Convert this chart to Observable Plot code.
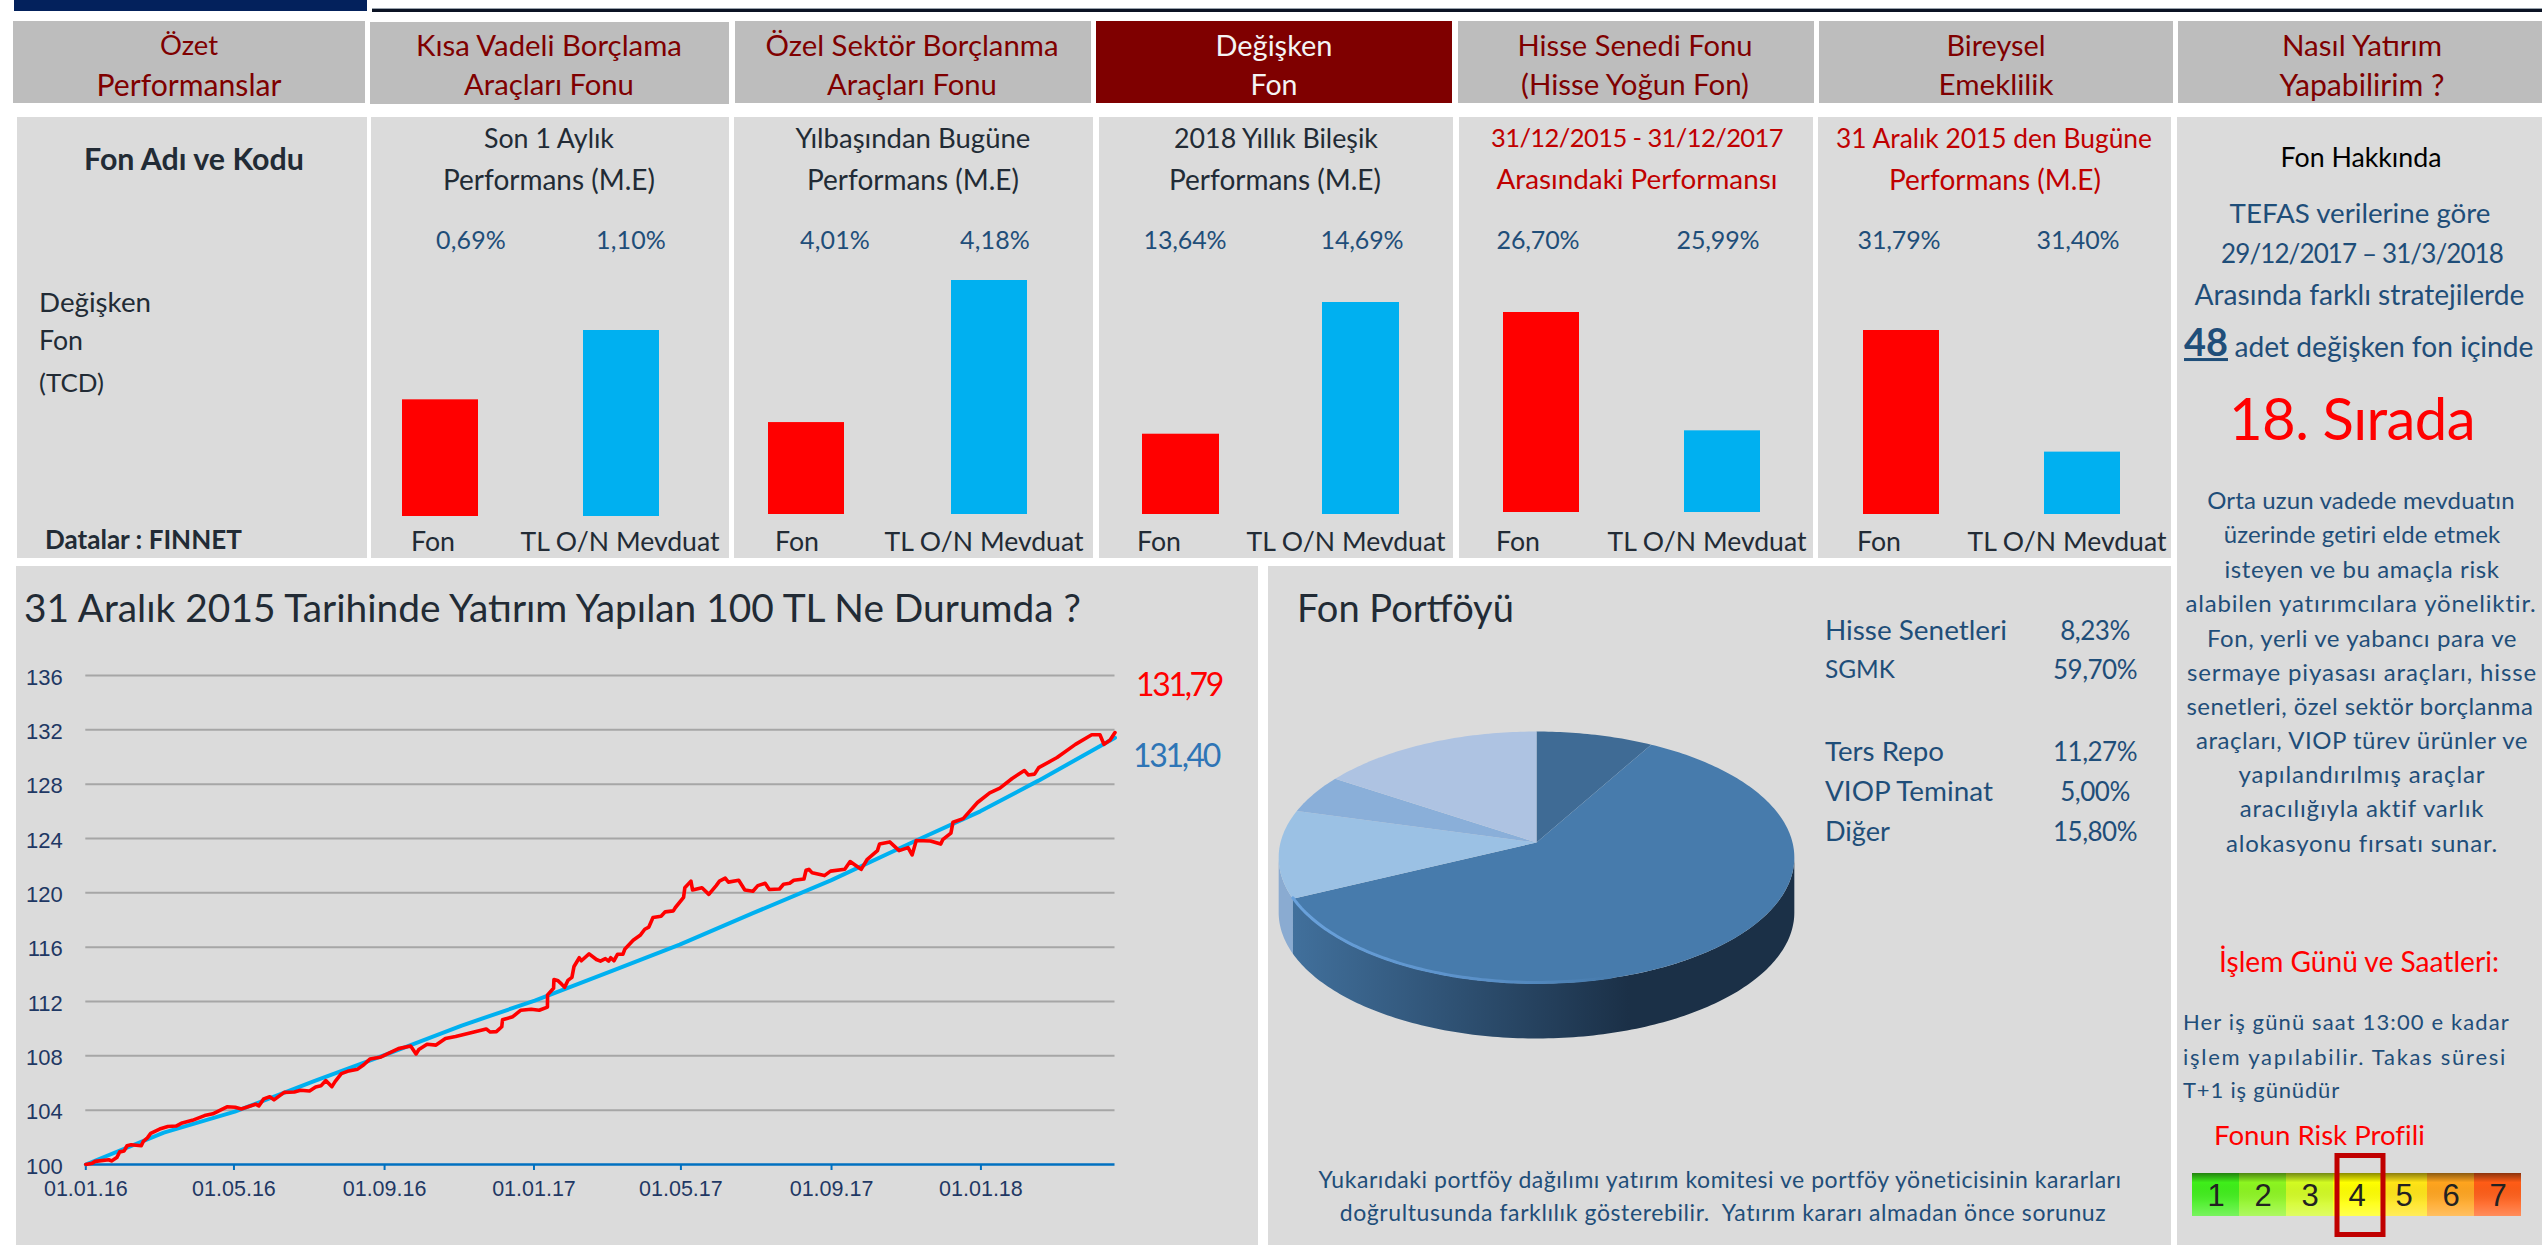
<!DOCTYPE html>
<html lang="tr"><head><meta charset="utf-8">
<script src="https://cdn.jsdelivr.net/npm/d3@7"></script>
<script src="https://cdn.jsdelivr.net/npm/@observablehq/plot@0.6"></script>
<style>
html,body{margin:0;padding:0;background:#fff}
#page{position:relative;width:2542px;height:1245px;overflow:hidden;background:#fff;font-family:Lato,"Open Sans",sans-serif}
.box{position:absolute}
.t{position:absolute;white-space:pre;line-height:1}
svg{position:absolute}
</style></head><body><div id="page"></div>
<script>
// ---------- data ----------
const tabLabels = [["Özet","Performanslar"],["Kısa Vadeli Borçlama","Araçları Fonu"],["Özel Sektör Borçlanma","Araçları Fonu"],["Değişken","Fon"],["Hisse Senedi Fonu","(Hisse Yoğun Fon)"],["Bireysel","Emeklilik"],["Nasıl Yatırım","Yapabilirim ?"]];
const barCategories = ["Fon","TL O/N Mevduat"];
const periodLabels = [["Son 1 Aylık","Performans (M.E)"],["Yılbaşından Bugüne","Performans (M.E)"],["2018 Yıllık Bileşik","Performans (M.E)"],["31/12/2015 - 31/12/2017","Arasındaki Performansı"],["31 Aralık 2015 den Bugüne","Performans (M.E)"]];
const fundReturns = [0.69,4.01,13.64,26.70,31.79];
const depositReturns = [1.10,4.18,14.69,25.99,31.40];
const axisMinimums = [0,3.9,13,25.5,31.2];

const yTicks = [100,104,108,112,116,120,124,128,132,136];
const xTickDates = ["2016-01-01","2016-05-01","2016-09-01","2017-01-01","2017-05-01","2017-09-01","2018-01-01"];
const fundDays = [0,5.3,7.7,18.7,21,25.3,27.7,31.3,33.7,37,45.3,47,50.3,53,60.3,67,73.7,78.7,87,97,103.7,115.3,122,127,138.7,141.3,145.3,150.3,153.7,162,170.3,175.3,182.7,187.7,192,196,201,203.7,208.7,213.7,222,227,232,240.3,255.3,265.3,269.7,272,278.7,286,293.7,302,313.7,327,330.3,335.3,339.7,340.3,348.7,355.3,363.7,370.3,377,377.1,382,382.3,385.3,387.7,391,393.7,397,398.7,403,404.7,411,417,420.3,424.3,427,428.7,431.3,434.3,438.7,440.3,447,453,456.5,459.8,463.2,469.8,473.2,479.8,481.5,488.2,489.2,494.2,495.5,503.2,508.8,514.8,517.5,522.2,524.8,533.2,538.2,544.8,548.8,554.8,558.2,566.5,569.8,574.8,578.2,586.5,588.2,590.5,593.2,603.2,608.2,619.8,624.2,628.2,633.2,638.2,646.5,648.2,656.5,664.2,671.5,674.8,678.2,689.8,698.2,699.8,706.5,708.2,716.5,728.2,738.2,746.5,756.5,766.5,769.8,774.8,778.2,793.2,808.2,821.5,828.2,831.5,836.5,840.5];
const fundValues = [100,100.10,100.23,100.35,100.26,100.51,100.93,101.00,101.38,101.45,101.38,101.71,101.96,102.29,102.61,102.80,102.83,103.06,103.25,103.60,103.73,104.25,104.22,104.09,104.44,104.31,104.83,104.99,104.76,105.31,105.34,105.47,105.41,105.70,105.79,106.18,105.73,106.12,106.69,106.86,107.02,107.34,107.76,107.89,108.53,108.72,108.14,108.46,108.85,108.79,109.27,109.43,109.69,109.98,109.75,109.78,110.14,110.65,110.88,111.36,111.43,111.36,111.59,112.49,112.97,113.61,113.55,113.36,113.04,113.55,113.78,114.58,115.22,115.00,115.51,115.09,114.97,115.16,114.97,115.22,115.00,115.48,115.48,115.87,116.51,116.90,117.32,117.48,118.18,118.28,118.60,118.67,118.92,119.67,120.37,120.86,120.21,120.37,119.89,120.53,120.86,121.08,120.79,120.92,120.21,120.12,120.53,120.70,120.24,120.28,120.63,120.70,120.92,121.02,121.66,121.73,121.47,121.27,121.60,121.73,122.30,122.05,121.73,122.47,123.11,123.59,123.75,123.11,123.33,122.79,123.85,123.82,123.59,123.91,124.40,125.20,125.46,126.65,127.36,127.71,128.42,129.00,128.68,128.74,129.22,129.96,130.93,131.64,131.64,130.93,131.25,131.80];
const depositDays = [0,63.7,121.7,187,245,307,366.7,430.3,485,544.8,608.5,678.2,730.5,778,840.5];
const depositValues = [100,102.35,103.89,106.15,108.08,110.23,112.07,114.28,116.19,118.50,120.92,123.85,126.00,128.26,131.41];
const endLabels = ["131,79","131,40"];

const portfolioNames = ["Hisse Senetleri","SGMK","Ters Repo","VIOP Teminat","Diğer"];
const portfolioShares = [8.23,59.70,11.27,5.00,15.80];
const portfolioColors = ["#3f6b95","#477bac","#9bc1e4","#8aafd9","#aec3e2"];

const riskLevels = [1,2,3,4,5,6,7];
const riskColors = ["#3fee1a","#8cf520","#d2fb22","#ffff00","#ffe416","#ffa41e","#ff5c16"];
const fundRisk = 4;

const aboutLines = ["Orta uzun vadede mevduatın","üzerinde getiri elde etmek","isteyen ve bu amaçla risk","alabilen yatırımcılara yöneliktir.","Fon, yerli ve yabancı para ve","sermaye piyasası araçları, hisse","senetleri, özel sektör borçlanma","araçları, VIOP türev ürünler ve","yapılandırılmış araçlar","aracılığıyla aktif varlık","alokasyonu fırsatı sunar."];

// ---------- layout helpers ----------
const page = document.getElementById("page");
const NAVY="#1f4e79", DARK="#222b35", MAROON="#7f0000", PANEL="#dbdbdb", TAB="#bdbdbd";
function box(x0,y0,x1,y1,bg){const d=document.createElement("div");d.className="box";
  d.style.cssText=`left:${x0}px;top:${y0}px;width:${x1-x0}px;height:${y1-y0}px;background:${bg}`;page.appendChild(d);return d;}
function T(text,x,y,o={}){const d=document.createElement("div");d.className="t";d.textContent=text;
  const a=o.anchor||"middle", size=o.size||24;
  d.style.left=x+"px";d.style.top=y+"px";d.style.fontSize=size+"px";d.style.color=o.color||NAVY;
  d.style.fontWeight=o.weight||400;d.style.fontFamily=o.font||'Lato,"Open Sans",sans-serif';
  if(o.underline)d.style.textDecoration="underline";
  d.style.transform=`translate(${a==="middle"?"-50%":"0"},-50%)`;
  page.appendChild(d);
  if(o.w){const m=d.getBoundingClientRect().width;
    if(o.spaced)d.style.letterSpacing=((o.w-m)/text.length)+"px";
    else d.style.fontSize=(size*o.w/m)+"px";}
  return d;}
function place(svg,x,y){svg.style.left=x+"px";svg.style.top=y+"px";svg.style.background="transparent";svg.style.maxWidth="none";svg.style.overflow="visible";page.appendChild(svg);return svg;}
const comma=v=>v.toFixed(2).replace(".",",")+"%";

// ---------- top rules ----------
box(14,0,367,11,"#03215c");
box(372,8,2542,9,"#9aa3ad");box(372,9,2542,12,"#0b1324");

// ---------- tabs ----------
const tabRects=[[13,21,365,103],[370,22,729,104],[735,21,1091,103],[1096,21,1452,103],[1458,21,1814,103],[1819,21,2173,103],[2178,21,2542,103]];
const tabCx=[189,549,912,1274,1635,1996,2362];
const tabW=[[58,185],[266,170],[293,170],[117,47],[235,228],[99,115],[160,165]];
tabLabels.forEach((l,i)=>{const r=tabRects[i];const sel=i===3;box(r[0],r[1],r[2],r[3],sel?MAROON:TAB);
  l.forEach((s,k)=>T(s,tabCx[i],45+k*39,{size:26,color:sel?"#f4f4f4":MAROON,w:tabW[i][k]}));});

// ---------- performance panels ----------
const panelRects=[[17,117,367,558],[371,117,729,558],[734,117,1093,558],[1099,117,1453,558],[1459,117,1813,558],[1818,117,2171,558],[2177,117,2542,1245]];
panelRects.forEach(r=>box(r[0],r[1],r[2],r[3],PANEL));
T("Fon Adı ve Kodu",194,158,{size:25,weight:700,color:DARK,w:220});
T("Değişken",39,302,{size:24,anchor:"start",color:DARK,w:112});
T("Fon",39,340,{size:24,anchor:"start",color:DARK,w:44});
T("(TCD)",39,382,{size:24,anchor:"start",color:DARK,w:65});
T("Datalar : FINNET",45,539,{size:22,anchor:"start",weight:700,color:DARK,w:197});

const subCx=[[549,549],[913,913],[1276,1275],[1637,1637],[1994,1995]];
const subW=[[130,212],[235,212],[204,212],[292,281],[316,212]];
const valCx=[[471,631],[835,995],[1185,1362],[1538,1718],[1899,2078]];
const labCx=[[433,620],[797,984],[1159,1346],[1518,1707],[1879,2067]];
const barPos=[[402,583,76,516,330],[768,951,76,514,280],[1141,1322,77,514,302],[1503,1684,76,512,312],[1863,2044,76,514,330]];
periodLabels.forEach((l,i)=>{
  const col=i>=3?"#c00000":DARK;
  l.forEach((s,k)=>{const digits=/^[0-9\/ -]+$/.test(s);T(s,subCx[i][k],138+k*41,digits?{size:25.5,spaced:true,color:col,w:subW[i][k]}:{size:24,color:col,w:subW[i][k]});});
  const vals=[fundReturns[i],depositReturns[i]];
  vals.forEach((v,k)=>T(comma(v),valCx[i][k],239,{size:25,spaced:true,w:i<2?70:83}));
  barCategories.forEach((c,k)=>T(c,labCx[i][k],541,{size:24,color:DARK,w:k?199:44}));
  const [p,q,bw,base,top]=barPos[i], r=panelRects[i+1];
  const rows=barCategories.map((c,k)=>({c,v:vals[k]}));
  const step=q-p;
  place(Plot.plot({width:r[2]-r[0],height:r[3]-r[1],margin:0,
    x:{type:"band",domain:barCategories,range:[p-r[0],q+bw-r[0]],paddingInner:(step-bw)/step,paddingOuter:0,axis:null},
    y:{domain:[axisMinimums[i],d3.max(vals)],range:[base-r[1],top-r[1]],axis:null},
    marks:[Plot.rectY(rows,{x:"c",y1:axisMinimums[i],y2:"v",fill:d=>d.c,inset:0})],
    color:{domain:barCategories,range:["#ff0000","#00b0f0"]}
  }),r[0],r[1]);
});

// ---------- about panel ----------
T("Fon Hakkında",2361,157,{size:23,color:"#000",w:161});
T("TEFAS verilerine göre",2360,213,{size:24,w:261});
T("29/12/2017 – 31/3/2018",2362,253,{size:26,spaced:true,w:282});
T("Arasında farklı stratejilerde",2359.5,294,{size:24,w:330});
T("48",2184,342,{size:35,weight:700,anchor:"start",underline:true,w:44});
T("adet değişken fon içinde",2234.5,346,{size:24,anchor:"start",w:299});
T("18. Sırada",2352,418,{size:58,spaced:true,color:"#ff0000",w:246});
const aboutCx=[2361,2362,2362,2361,2362,2362,2360,2362,2362,2362,2362];
const aboutW=[308,277,275,352,310,350,347,332,247,245,272];
const aboutY=[500,534,569,603,638,672,706,740,774,808,843];
aboutLines.forEach((s,i)=>T(s,aboutCx[i],aboutY[i],{size:24,spaced:true,w:aboutW[i]}));
T("İşlem Günü ve Saatleri:",2359,961,{size:25,color:"#ff0000",w:280});
T("Her iş günü saat 13:00 e kadar",2183,1022,{size:22,anchor:"start",spaced:true,w:327});
T("işlem yapılabilir. Takas süresi",2183,1057,{size:22,anchor:"start",spaced:true,w:324});
T("T+1 iş günüdür",2183,1090,{size:22,anchor:"start",spaced:true,w:157});
T("Fonun Risk Profili",2214,1135,{size:25,anchor:"start",color:"#ff0000",w:211});

// risk scale
place(Plot.plot({width:365,height:90,margin:0,
  x:{type:"band",domain:riskLevels,range:[13,346],padding:0,axis:null},
  y:{type:"band",domain:["risk"],range:[23,66],padding:0,axis:null},
  color:{type:"ordinal",domain:riskLevels,range:riskColors},
  marks:[
    ()=>{const d=d3.create("svg:defs");d.html(`<linearGradient id="riskShade" x1="0" x2="0" y1="0" y2="1">
      <stop offset="0" stop-color="#000" stop-opacity=".45"/><stop offset=".22" stop-color="#000" stop-opacity="0"/>
      <stop offset=".7" stop-color="#fff" stop-opacity=".12"/><stop offset="1" stop-color="#fff" stop-opacity=".3"/></linearGradient>`);return d.node();},
    Plot.cell(riskLevels,{x:d=>d,y:()=>"risk",fill:d=>d,inset:0}),
    Plot.cell(riskLevels,{x:d=>d,y:()=>"risk",fill:"url(#riskShade)",inset:0}),
    Plot.text(riskLevels,{x:d=>d,y:()=>"risk",text:d=>String(d),fontSize:31,fontFamily:"Liberation Sans",fontWeight:400,fill:"#222",dy:1}),
    Plot.cell([fundRisk],{x:d=>d,y:()=>"risk",fill:"none",stroke:"#c00000",strokeWidth:5,insetLeft:4,insetRight:-3,insetTop:-17.5,insetBottom:-18.5})
  ]}),2177,1150);

// ---------- growth chart ----------
box(16,566,1258,1245,PANEL);
T("31 Aralık 2015 Tarihinde Yatırım Yapılan 100 TL Ne Durumda ?",24,607,{size:36,anchor:"start",color:DARK,w:1057});
const DAY=864e5, START=Date.UTC(2016,0,1);
const dayToDate=d=>new Date(START+d*DAY);
const idx=a=>a.map((_,i)=>i);
place(Plot.plot({width:1242,height:679,marginLeft:69.3,marginRight:143.5,marginTop:109,marginBottom:81,
  x:{type:"utc",domain:[dayToDate(0),dayToDate(840.5)]},
  y:{domain:[100,136]},
  style:{fontFamily:"Liberation Sans"},
  marks:[
    Plot.gridY(yTicks.slice(1),{stroke:"#a6a6a6",strokeOpacity:1,strokeWidth:2}),
    Plot.axisY(yTicks,{tickSize:0,tickPadding:23,fontSize:22,fill:"#1f3864",label:null,dy:2}),
    Plot.axisX(xTickDates.map(d=>new Date(d+"T00:00:00Z")),{tickSize:6,tickPadding:10,fontSize:21.5,stroke:"#0070c0",fill:"#1f3864",strokeWidth:2,label:null,tickFormat:d3.utcFormat("%d.%m.%y"),textStroke:"none"}),
    Plot.ruleY([100],{stroke:"#0070c0",strokeWidth:2.5}),
    Plot.line(idx(depositDays),{x:i=>dayToDate(depositDays[i]),y:i=>depositValues[i],stroke:"#00b0f0",strokeWidth:4}),
    Plot.line(idx(fundDays),{x:i=>dayToDate(fundDays[i]),y:i=>fundValues[i],stroke:"#ff0000",strokeWidth:3.6})
  ]}),16,566);
T(endLabels[0],1179,684,{size:32,spaced:true,color:"#ff0000",w:86});
T(endLabels[1],1176,755,{size:32,spaced:true,color:"#2e75b6",w:86});

// ---------- portfolio ----------
box(1268,566,2171,1245,PANEL);
T("Fon Portföyü",1297,607,{size:36,anchor:"start",color:DARK,w:217});
const legY=[630,669,751,791,831];
const legW=[182,70,119,168,65];
portfolioNames.forEach((n,i)=>{
  T(n,1825,legY[i],{size:24,anchor:"start",w:legW[i]});
  T(comma(portfolioShares[i]),2095,legY[i],{size:26,spaced:true,w:portfolioShares[i]>=10?84:69.5});
});
T("Yukarıdaki portföy dağılımı yatırım komitesi ve portföy yöneticisinin kararları",1720,1179,{size:23,spaced:true,w:803});
T("doğrultusunda farklılık gösterebilir.  Yatırım kararı almadan önce sorunuz",1723,1212,{size:23,spaced:true,w:767});

// 3D pie built from the shares: a tilted circle with perspective b, wall depth in y units
const b=0.119, depth=0.443, rad=Math.PI/180;
const proj=(deg,dy=0)=>{const t=deg*rad,k=1+b*Math.cos(t);return {x:Math.sin(t)/k,y:Math.cos(t)/k-dy};};
const arc=(a,c,dy=0)=>{const out=[],n=Math.max(2,Math.ceil(Math.abs(c-a)));for(let i=0;i<=n;i++)out.push(proj(a+(c-a)*i/n,dy));return out;};
let acc=0;
const sliceAngles=portfolioShares.map(s=>{const a=acc*3.6;acc+=s;return [a,acc*3.6];});
const slicePts=portfolioNames.flatMap((name,i)=>{const [a,c]=sliceAngles[i];return [{x:0,y:0},...arc(a,c),{x:0,y:0}].map(p=>({...p,name}));});
const rightSil=Math.acos(-b)/rad, leftSil=360-rightSil;
const wallPts=(a,c)=>[...arc(a,c),...arc(c,a,depth)];
const [sgA,sgC]=sliceAngles[1];
place(Plot.plot({width:899,height:679,margin:0,
  x:{domain:[-1,1],range:[12,524],axis:null},
  y:{domain:[-1,1],range:[400.2,151.8],axis:null},
  color:{domain:portfolioNames,range:portfolioColors},
  marks:[
    ()=>{const d=d3.create("svg:defs");d.html(`<linearGradient id="pieWall" x1="0" x2="1" y1="0" y2="0">
      <stop offset="0" stop-color="#41709c"/><stop offset=".67" stop-color="#1b3047"/><stop offset="1" stop-color="#1b3047"/></linearGradient>
      <linearGradient id="pieRim" x1="0" x2="1" y1="0" y2="0"><stop offset="0" stop-color="#6aa2dc"/><stop offset=".6" stop-color="#5a90c8"/><stop offset="1" stop-color="#477bac"/></linearGradient>`);return d.node();},
    Plot.line(wallPts(sgC,leftSil),{x:"x",y:"y",fill:"#8aabd1",stroke:"none"}),
    Plot.line(wallPts(rightSil,sgC),{x:"x",y:"y",fill:"url(#pieWall)",stroke:"none"}),
    Plot.line(slicePts,{x:"x",y:"y",z:"name",fill:"name",stroke:"none"}),
    Plot.line(arc(165,sgC),{x:"x",y:"y",stroke:"url(#pieRim)",strokeWidth:3,dy:-1})
  ]}),1268,566).style.filter="blur(0.6px)";
</script></body></html>
